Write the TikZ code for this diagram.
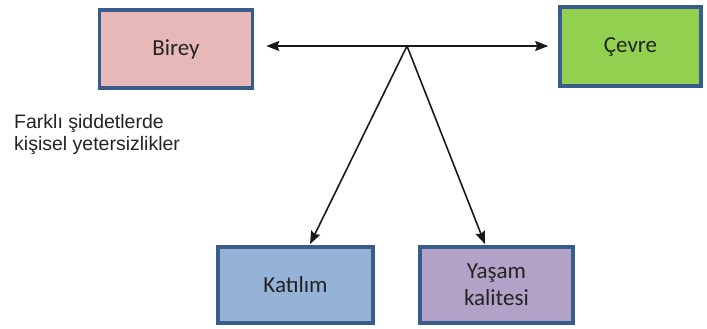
\documentclass[tikz,border=0pt]{standalone}
\usepackage{fontspec}
\setmainfont{Carlito}
\newfontfamily\arialfont{Liberation Sans}
\usetikzlibrary{arrows.meta,calc}
\definecolor{bord}{RGB}{56,93,138}
\definecolor{pinkf}{RGB}{230,184,183}
\definecolor{greenf}{RGB}{146,208,80}
\definecolor{bluef}{RGB}{149,179,215}
\definecolor{purplef}{RGB}{179,162,199}
\definecolor{txt}{RGB}{35,35,35}
\tikzset{
  boxnode/.style={draw=bord, line width=3.6pt, inner sep=0pt, align=center,
    text=txt, font=\fontsize{23}{27}\selectfont},
  link/.style={line width=1.6pt, black!90, -{Stealth[length=13pt,width=10pt,inset=2pt]}}
}
\begin{document}
\begin{tikzpicture}[x=1pt,y=-1pt]
\useasboundingbox (0,0) rectangle (707,329);
\node[boxnode, fill=pinkf, minimum width=153pt, minimum height=78pt] (birey) at (176,49) {Birey};
\node[boxnode, fill=greenf, minimum width=141pt, minimum height=79pt] (cevre) at (630.5,46.5) {Çevre};
\node[boxnode, fill=bluef, minimum width=155pt, minimum height=76pt] (katilim) at (295.5,285) {Katılım};
\node[boxnode, fill=purplef, minimum width=153pt, minimum height=76pt] (yasam) at (496.5,285) {Yaşam\\kalitesi};
\node[anchor=north west, align=left, inner sep=0pt, text=txt,
  font=\arialfont\fontsize{19.5}{22.5}\selectfont] (note) at (14,114) {Farklı şiddetlerde\\kişisel yetersizlikler};
\coordinate (apex) at (407,46);
\draw[link, shorten >=12pt] (apex) -- (birey.east |- apex);
\draw[link, shorten >=10pt] (apex) -- (cevre.west |- apex);
\draw[link] (apex) -- ($(katilim.north)+(14.5,-1)$);
\draw[link] (apex) -- ($(yasam.north)+(-11.5,-1)$);
\end{tikzpicture}
\end{document}
